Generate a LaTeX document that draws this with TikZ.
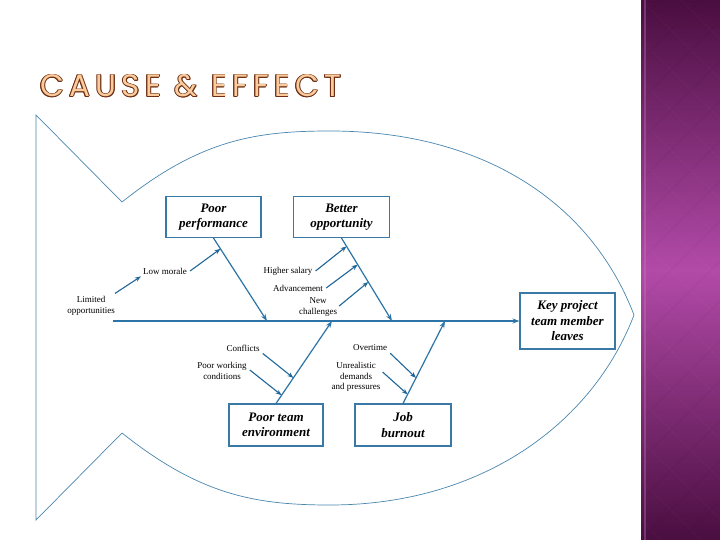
\documentclass[tikz,border=0pt]{standalone}
\usepackage{fontspec}
\setmainfont{Liberation Serif}
\newfontfamily\titlefont[LetterSpace=17]{Poppins}
\usetikzlibrary{arrows.meta}
\definecolor{fishblue}{HTML}{4A86AE}
\definecolor{boneblue}{HTML}{2C74A6}
\definecolor{boxblue}{HTML}{3A78A6}
\definecolor{arrblue}{HTML}{1F6699}
\definecolor{plumdark}{HTML}{4A0E40}
\definecolor{plummid}{HTML}{B24AA8}
\definecolor{titleline}{HTML}{6B2E14}
\definecolor{titlefill}{HTML}{FBCB9C}
\tikzset{
  fish/.style={draw=fishblue, line width=0.7pt, line join=miter},
  bone/.style={draw=boneblue, line width=1.2pt, -{Stealth[length=7pt,width=5pt]}},
  spine/.style={draw=boneblue, line width=1.4pt, -{Stealth[length=7pt,width=5pt]}},
  subarrow/.style={draw=arrblue, line width=1.1pt, -{Stealth[length=6pt,width=4.5pt]}},
  causebox/.style={draw=boxblue, line width=1.1pt, fill=white, align=center, inner sep=2pt,
     font=\fontsize{13}{15.5}\selectfont\bfseries\itshape},
  lbl/.style={align=center, inner sep=1pt, font=\fontsize{9}{10.5}\selectfont},
  ttl/.style={anchor=base west, inner sep=0pt, font=\titlefont\fontsize{31}{31}\selectfont}
}
\begin{document}
\begin{tikzpicture}[x=1pt,y=-1pt]
\useasboundingbox (0,0) rectangle (720,540);
\fill[white] (0,0) rectangle (720,540);
% purple side panel
\shade[top color=plumdark, bottom color=plumdark, middle color=plummid] (641,0) rectangle (720,540);
\begin{scope}
\clip (641,0) rectangle (720,540);
\foreach \k in {-600,-560,...,600} {
  \draw[white, opacity=0.04, line width=0.6pt] (641+\k,0) -- (641+\k+540,540);
  \draw[black, opacity=0.05, line width=0.6pt] (641+\k,540) -- (641+\k+540,0);
}
\end{scope}
\draw[plummid!70!white, opacity=0.35, line width=1.5pt] (645,0) -- (645,540);

% title (outlined letters)
\foreach \a in {0,45,...,315} {
  \node[ttl, text=titleline] (tc\a) at ([shift={(\a:0.8pt)}]40,97) {CAUSE \& EFFECT};
}
\node[ttl, text=titlefill] (title) at (40,97) {CAUSE \& EFFECT};

% fish outline
\draw[fish] (36,520) -- (36,115) -- (122,202)
  .. controls (200,140) and (255,131) .. (330,131)
  .. controls (480,131) and (590,200) .. (634,315)
  .. controls (592,425) and (480,505) .. (330,505)
  .. controls (255,505) and (200,495) .. (122,433) -- cycle;

% effect and spine
\node[causebox, minimum width=95pt, minimum height=56pt] (key) at (567.5,321) {Key project\\team member\\leaves};
\coordinate (spS) at (113,321);
\draw[spine] (spS) -- (key.west);

% cause boxes
\node[causebox, minimum width=95pt, minimum height=41pt] (pp) at (213.5,217) {Poor\\performance};
\node[causebox, minimum width=96pt, minimum height=41pt] (bo) at (341.5,217) {Better\\opportunity};
\node[causebox, minimum width=94pt, minimum height=42pt] (pte) at (276,425) {Poor team\\environment};
\node[causebox, minimum width=96pt, minimum height=42pt] (jb) at (403,425) {Job\\burnout};

% bone ends on spine
\coordinate (ppE) at (267,321);
\coordinate (boE) at (392,321);
\coordinate (pteE) at (332,321);
\coordinate (jbE) at (445,321);

\draw[bone] (pp.south) -- (ppE);
\draw[bone] (bo.south) -- (boE);
\draw[bone] (pte.north) -- (pteE);
\draw[bone] (jb.north) -- (jbE);

% points on bones
\path (pp.south) -- (ppE) coordinate[pos=0.13] (pp1);
\path (bo.south) -- (boE) coordinate[pos=0.10] (bo1) coordinate[pos=0.32] (bo2) coordinate[pos=0.53] (bo3);
\path (pte.north) -- (pteE) coordinate[pos=0.31] (pt1) coordinate[pos=0.10] (pt2);
\path (jb.north) -- (jbE) coordinate[pos=0.31] (jb1) coordinate[pos=0.11] (jb2);

% labels
\node[lbl] (lowm) at (165,271) {Low morale};
\node[lbl] (lim) at (91,306) {Limited\\opportunities};
\node[lbl] (hs) at (288,271) {Higher salary};
\node[lbl] (adv) at (298,288) {Advancement};
\node[lbl] (nc) at (318,307) {New\\challenges};
\node[lbl] (conf) at (243,348) {Conflicts};
\node[lbl] (pwc) at (222,371) {Poor working\\conditions};
\node[lbl] (ot) at (370,348) {Overtime};
\node[lbl] (unr) at (356,377) {Unrealistic\\demands\\and pressures};

% sub-cause arrows
\draw[subarrow] ([shift={(-1pt,2pt)}]lim.north east) -- ([shift={(-1pt,-1pt)}]lowm.south west);
\draw[subarrow] ([xshift=2pt]lowm.east) -- (pp1);
\draw[subarrow] ([xshift=2pt]hs.east) -- (bo1);
\draw[subarrow] ([xshift=2pt]adv.east) -- (bo2);
\draw[subarrow] ([shift={(1pt,1pt)}]nc.east) -- (bo3);
\draw[subarrow] ([shift={(2pt,-1pt)}]conf.south east) -- (pt1);
\draw[subarrow] ([shift={(2pt,1pt)}]pwc.east) -- (pt2);
\draw[subarrow] ([shift={(2pt,-1pt)}]ot.south east) -- (jb1);
\draw[subarrow] ([shift={(1pt,5pt)}]unr.east) -- (jb2);
\end{tikzpicture}
\end{document}
